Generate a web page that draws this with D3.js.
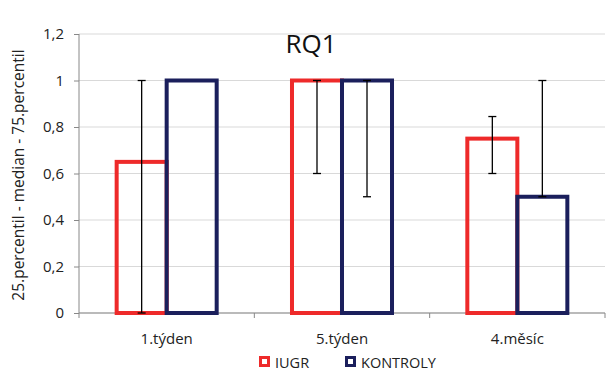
<!DOCTYPE html>
<html><head><meta charset="utf-8">
<script src="https://cdn.jsdelivr.net/npm/d3@7"></script>
<style>body{margin:0;background:#fff}svg{display:block;font-family:"Open Sans",Calibri,sans-serif}</style>
</head><body><svg id="c" width="612" height="370"></svg>
<script>
const categories = ["1.týden", "5.týden", "4.měsíc"];
const seriesNames = ["IUGR", "KONTROLY"];
const iugrMedian = [0.65, 1, 0.75];
const iugrLow = [0, 0.6, 0.6];
const iugrHigh = [1, 1, 0.845];
const kontrolyMedian = [1, 1, 0.5];
const kontrolyLow = [1, 0.5, 0.5];
const kontrolyHigh = [1, 1, 1];
const yTicks = [0, 0.2, 0.4, 0.6, 0.8, 1, 1.2];
const colors = ["#ee2a2a", "#1b1f5c"];

const svg = d3.select("#c");
const m = {l: 79, r: 605, t: 34, b: 313};
const x0 = d3.scaleBand().domain(categories).range([m.l, m.r]).paddingInner(0).paddingOuter(0);
const x1 = d3.scaleBand().domain(seriesNames).range([0, x0.bandwidth()]).paddingOuter(0.753).paddingInner(0);
const y = d3.scaleLinear().domain([0, 1.2]).range([m.b, m.t]);
const fmt = v => String(v).replace(".", ",");

// gridlines
svg.append("g").selectAll("line").data(yTicks).join("line")
  .attr("x1", m.l).attr("x2", m.r).attr("y1", d => y(d)).attr("y2", d => y(d))
  .attr("stroke", "#d9d9d9").attr("stroke-width", 1);

// y axis
const ya = svg.append("g").attr("transform", `translate(${m.l},0)`)
  .call(d3.axisLeft(y).tickValues(yTicks).tickFormat(fmt).tickSize(5).tickPadding(10));
ya.select(".domain").attr("stroke", "#888").attr("d", `M0,${m.t}V${m.b}`);
ya.selectAll(".tick line").attr("stroke", "#888");
ya.selectAll(".tick text").attr("font-size", 15).attr("fill", "#222").attr("font-family", "Open Sans");

// x axis
const xa = svg.append("g").attr("transform", `translate(0,${m.b})`)
  .call(d3.axisBottom(x0).tickSize(0).tickPadding(20));
xa.select(".domain").attr("stroke", "#888").attr("d", `M${m.l},0H${m.r}`);
xa.selectAll(".tick text").attr("font-size", 15).attr("fill", "#222").attr("font-family", "Open Sans");
const bounds = categories.map(c => x0(c)).concat([m.r]);
svg.append("g").selectAll("line").data(bounds).join("line")
  .attr("x1", d => d).attr("x2", d => d).attr("y1", m.b).attr("y2", m.b + 5)
  .attr("stroke", "#888");

const data = categories.map((c, i) => ({
  c,
  vals: [
    {s: seriesNames[0], v: iugrMedian[i], lo: iugrLow[i], hi: iugrHigh[i], col: colors[0]},
    {s: seriesNames[1], v: kontrolyMedian[i], lo: kontrolyLow[i], hi: kontrolyHigh[i], col: colors[1]}
  ]
}));

const g = svg.append("g").selectAll("g").data(data).join("g")
  .attr("transform", d => `translate(${x0(d.c)},0)`);
g.selectAll("rect").data(d => d.vals).join("rect")
  .attr("x", d => x1(d.s)).attr("width", x1.bandwidth())
  .attr("y", d => y(d.v)).attr("height", d => y(0) - y(d.v))
  .attr("fill", "none").attr("stroke", d => d.col).attr("stroke-width", 4);

// error bars
const eb = g.selectAll("g.eb").data(d => d.vals.filter(v => v.hi > v.lo)).join("g").attr("class", "eb");
eb.append("line").attr("x1", d => x1(d.s) + x1.bandwidth() / 2).attr("x2", d => x1(d.s) + x1.bandwidth() / 2)
  .attr("y1", d => y(d.lo)).attr("y2", d => y(d.hi)).attr("stroke", "#000").attr("stroke-width", 1.3);
["lo", "hi"].forEach(k => {
  eb.append("line").attr("x1", d => x1(d.s) + x1.bandwidth() / 2 - 4).attr("x2", d => x1(d.s) + x1.bandwidth() / 2 + 4)
    .attr("y1", d => y(d[k])).attr("y2", d => y(d[k])).attr("stroke", "#000").attr("stroke-width", 1.3);
});

// title
svg.append("text").attr("x", 311).attr("y", 53).attr("text-anchor", "middle")
  .attr("font-size", 26).attr("fill", "#111").text("RQ1");

// y title
svg.append("text").attr("transform", "translate(24,175) rotate(-90)").attr("text-anchor", "middle")
  .attr("font-size", 15.5).attr("fill", "#222").text("25.percentil - median - 75.percentil");

// legend
const lg = svg.append("g").selectAll("g").data(seriesNames).join("g")
  .attr("transform", (d, i) => `translate(${[259, 345][i]},356)`);
lg.append("rect").attr("x", 1.5).attr("y", 1.5).attr("width", 8).attr("height", 8)
  .attr("fill", "none").attr("stroke", (d, i) => colors[i]).attr("stroke-width", 3);
lg.append("text").attr("x", 16).attr("y", 11.5).attr("font-size", 14.5).attr("fill", "#222").text(d => d);
</script></body></html>
